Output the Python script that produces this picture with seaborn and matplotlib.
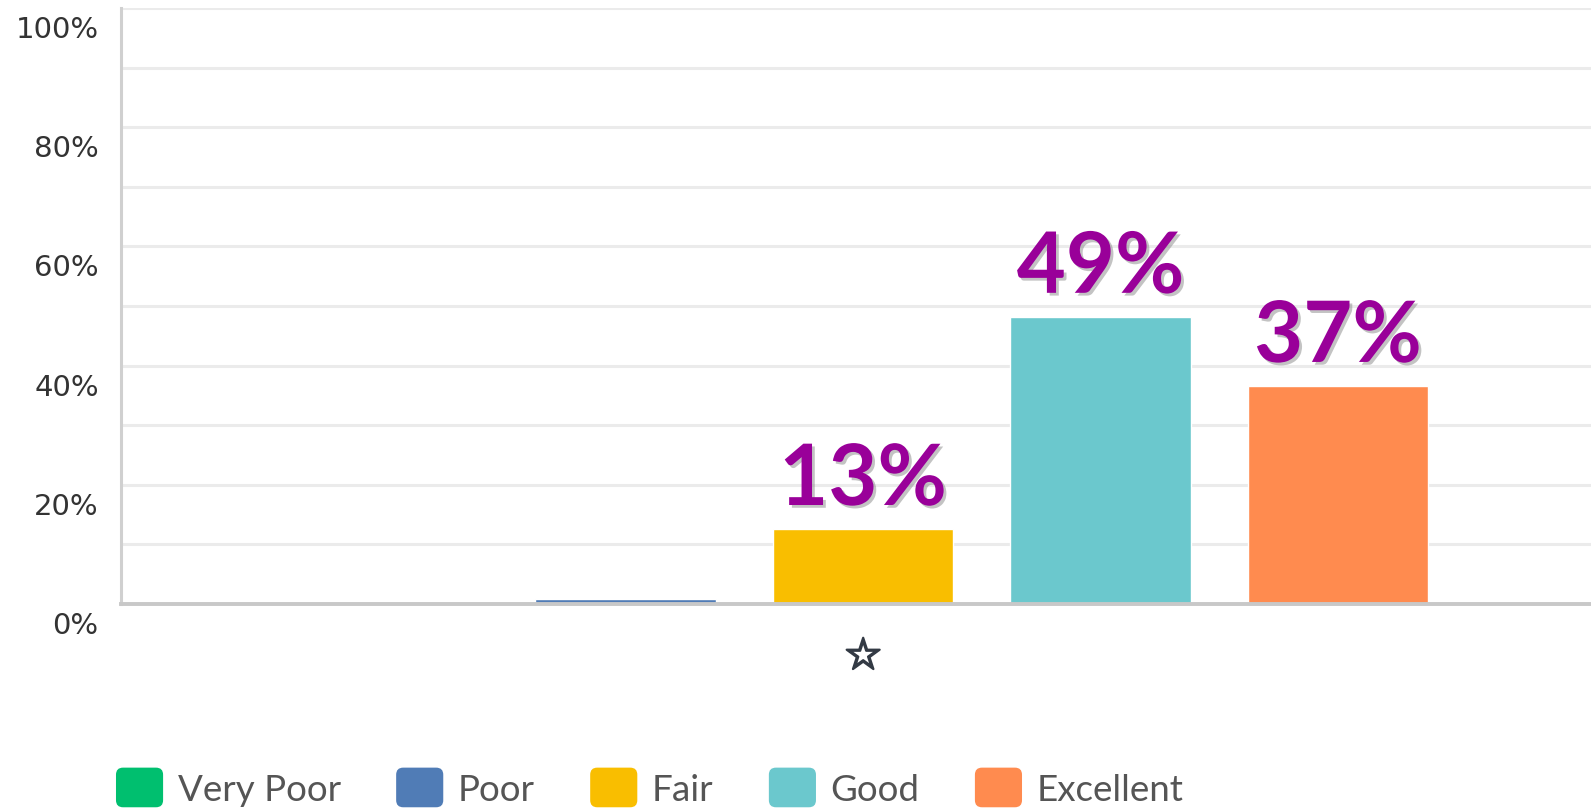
import matplotlib
matplotlib.use("Agg")
import matplotlib.pyplot as plt
import matplotlib.transforms as mtransforms
from matplotlib.patches import FancyBboxPatch, Patch
from matplotlib.legend_handler import HandlerPatch
import matplotlib.patheffects as pe
import seaborn as sns
import pandas as pd

# ---- data ----
question = ["☆"]
ratings = ["Very Poor", "Poor", "Fair", "Good", "Excellent"]
values = [0.0, 0.9, 12.6, 48.2, 36.6]
annotations = ["", "", "13%", "49%", "37%"]
colors = ["#00BF6F", "#507CB6", "#F9BE00", "#6BC8CD", "#FF8B4F"]
yticks = [0, 20, 40, 60, 80, 100]
ytick_labels = ["0%", "20%", "40%", "60%", "80%", "100%"]

df = pd.DataFrame({"question": question * len(ratings), "rating": ratings, "value": values})

sns.set_theme(style="white")
plt.rcParams["font.family"] = ["Lato", "DejaVu Sans"]

fig = plt.figure(figsize=(15.91, 8.12), dpi=100)
ax = fig.add_axes([0.076, 0.255, 0.933, 0.734])

sns.barplot(data=df, x="question", y="value", hue="rating", hue_order=ratings,
            palette=colors, width=0.8, gap=0.24, saturation=1, legend=False, ax=ax,
            errorbar=None)

ax.set_ylim(0, 100)
ax.set_xlim(-0.5, 0.5)
ax.set_yticks(yticks)
ax.set_yticklabels(ytick_labels)
ax.set_yticks(range(10, 100, 20), minor=True)
ax.set_xlabel("")
ax.set_ylabel("")
ax.grid(True, axis="y", which="both", color="#ebebeb", linewidth=2.2)
ax.set_axisbelow(True)
ax.tick_params(axis="y", which="both", length=0, labelsize=21, labelcolor="#333333", pad=16)
ax.tick_params(axis="x", length=0, pad=23)
for lab in ax.get_yticklabels():
    lab.set_fontfamily(["DejaVu Sans"])
for lab in ax.get_xticklabels():
    lab.set_fontfamily(["DejaVu Sans"])
    lab.set_fontsize(31)
    lab.set_color("#333a44")
    lab.set_path_effects([pe.withStroke(linewidth=1.6, foreground="#333a44")])

offset = mtransforms.ScaledTranslation(0, -13 / 72, fig.dpi_scale_trans)
for lab in ax.get_yticklabels():
    lab.set_transform(lab.get_transform() + offset)

for side in ["top", "right"]:
    ax.spines[side].set_visible(False)
ax.spines["left"].set_color("#d0d0d0")
ax.spines["left"].set_linewidth(2.2)
ax.spines["bottom"].set_color("#c8c8c8")
ax.spines["bottom"].set_linewidth(2.8)

# annotations
for cont, txt in zip(ax.containers, annotations):
    if not txt:
        continue
    bar = cont.patches[0]
    xc = bar.get_x() + bar.get_width() / 2
    h = bar.get_height()
    ax.text(xc, h + 4.0, txt, ha="center", va="baseline", fontsize=61,
            fontweight="bold", color="#990099",
            path_effects=[pe.SimplePatchShadow(offset=(2, -2), shadow_rgbFace="#888888", alpha=0.5),
                          pe.Normal()])

# legend with rounded squares
class RoundHandler(HandlerPatch):
    def create_artists(self, legend, orig_handle, xdescent, ydescent, width, height, fontsize, trans):
        p = FancyBboxPatch((-xdescent, -ydescent), width, height,
                           boxstyle=f"round,pad=0,rounding_size={width * 0.15}",
                           facecolor=orig_handle.get_facecolor(), edgecolor="none", transform=trans)
        return [p]

handles = [Patch(facecolor=c, label=r) for c, r in zip(colors, ratings)]
leg = fig.legend(handles=handles, loc="center left", bbox_to_anchor=(0.0729, 0.029),
                 ncol=5, frameon=False, fontsize=26.5, handlelength=1.28, handleheight=1.28,
                 handletextpad=0.4, columnspacing=1.5, borderpad=0, borderaxespad=0,
                 handler_map={Patch: RoundHandler()})
for t in leg.get_texts():
    t.set_color("#555555")

fig.savefig("out.png", dpi=100)
